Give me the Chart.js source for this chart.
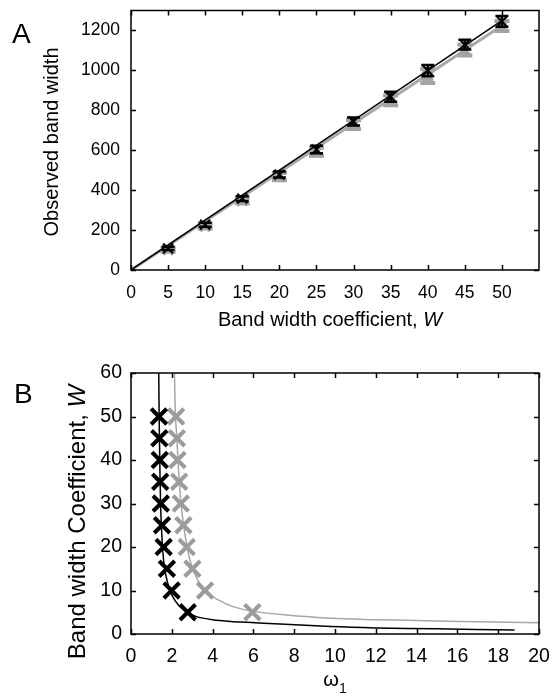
<!DOCTYPE html>
<html lang="en">
<head>
    <meta charset="UTF-8">
    <title>Band width</title>
    <script src="https://cdn.jsdelivr.net/npm/chart.js"></script>
    <style>
        body { margin: 0; background: #fff; }
        .wrap { position: relative; width: 557px; height: 696px; }
        canvas { position: absolute; left: 0; }
        #chartA { top: 0; }
        #chartB { top: 345px; }
    </style>
</head>
<body>
    <div class="wrap">
        <canvas id="chartA" width="557" height="345"></canvas>
        <canvas id="chartB" width="557" height="351"></canvas>
    </div>

    <script>
        // Panel A data
        const widthCoef = [5, 10, 15, 20, 25, 30, 35, 40, 45, 50];
        const observedBlack = [108, 227, 358, 478, 604, 744, 868, 999, 1129, 1245];
        const errBlack = [8, 10, 12, 15, 19, 20, 25, 28, 25, 27];
        const observedGray = [102, 220, 348, 468, 592, 728, 850, 972, 1102, 1222];
        const errGray = [10, 12, 15, 18, 20, 22, 25, 35, 28, 25];
        const fitBlackX = [0, 50.5];
        const fitBlackY = [0, 1262];
        const fitGrayX = [0, 50.5];
        const fitGrayY = [0, 1236];
        const xTicksA = [0, 5, 10, 15, 20, 25, 30, 35, 40, 45, 50];
        const yTicksA = [0, 200, 400, 600, 800, 1000, 1200];

        // Panel B data
        const coefB = [5, 10, 15, 20, 25, 30, 35, 40, 45, 50];
        const omegaBlack = [2.78, 1.99, 1.76, 1.60, 1.52, 1.46, 1.43, 1.41, 1.39, 1.37];
        const omegaGray = [5.95, 3.63, 3.01, 2.73, 2.57, 2.44, 2.36, 2.28, 2.25, 2.21];
        const curveBlackX = [1.36, 1.38, 1.41, 1.45, 1.52, 1.62, 1.78, 2.0, 2.35, 2.78, 3.2, 4.0, 4.9, 5.7, 7.3, 9.8, 12, 15, 18.8];
        const curveBlackY = [60, 50, 40, 30, 22, 16, 12, 9, 6.5, 5, 4.0, 3.3, 2.9, 2.7, 2.3, 1.7, 1.4, 1.2, 0.9];
        const curveGrayX = [2.13, 2.18, 2.25, 2.3, 2.37, 2.45, 2.58, 2.75, 3.02, 3.6, 4.3, 5.0, 6.0, 7.5, 9.8, 12, 14, 17, 20];
        const curveGrayY = [60, 50, 45, 40, 35, 30, 25, 20, 15, 10, 7.8, 6.3, 5.2, 4.4, 3.6, 3.3, 3.1, 2.8, 2.6];
        const xTicksB = [0, 2, 4, 6, 8, 10, 12, 14, 16, 18, 20];
        const yTicksB = [0, 10, 20, 30, 40, 50, 60];

        const FONT = "'Liberation Sans', Arial, sans-serif";
        Chart.defaults.font.family = FONT;
        Chart.defaults.color = '#000';

        const pts = (xs, ys) => xs.map((x, i) => ({ x: x, y: ys[i] }));

        // error bars, drawn right after their own dataset
        const errorBars = {
            id: 'errorBars',
            afterDatasetDraw(chart, args) {
                const ds = chart.data.datasets[args.index];
                if (!ds.err) return;
                const ctx = chart.ctx;
                const xs = chart.scales.x, ys = chart.scales.y;
                ctx.save();
                ctx.strokeStyle = ds.errColor;
                ctx.lineWidth = ds.errWidth;
                ds.data.forEach((p, i) => {
                    const px = xs.getPixelForValue(p.x);
                    const y1 = ys.getPixelForValue(p.y + ds.err[i]);
                    const y2 = ys.getPixelForValue(p.y - ds.err[i]);
                    const c = ds.capHalf;
                    ctx.beginPath();
                    ctx.moveTo(px, y1); ctx.lineTo(px, y2);
                    ctx.moveTo(px - c, y1); ctx.lineTo(px + c, y1);
                    ctx.moveTo(px - c, y2); ctx.lineTo(px + c, y2);
                    ctx.stroke();
                });
                ctx.restore();
            }
        };

        function drawParts(ctx, parts, size) {
            let total = 0;
            parts.forEach(p => {
                ctx.font = (p.italic ? 'italic ' : '') + (p.size || size) + 'px ' + FONT;
                total += ctx.measureText(p.text).width;
            });
            let x = -total / 2;
            parts.forEach(p => {
                ctx.font = (p.italic ? 'italic ' : '') + (p.size || size) + 'px ' + FONT;
                ctx.fillText(p.text, x, p.dy || 0);
                x += ctx.measureText(p.text).width;
            });
        }

        // box, inward ticks, axis titles and panel letter
        const frame = {
            id: 'frame',
            afterDatasetsDraw(chart, args, o) {
                const ctx = chart.ctx;
                const a = chart.chartArea;
                const xs = chart.scales.x, ys = chart.scales.y;
                ctx.save();
                ctx.strokeStyle = '#000';
                ctx.lineWidth = 1.5;
                ctx.beginPath();
                o.xTicks.forEach(v => {
                    const px = Math.round(xs.getPixelForValue(v)) + 0.5;
                    ctx.moveTo(px, a.bottom); ctx.lineTo(px, a.bottom - 5);
                    ctx.moveTo(px, a.top); ctx.lineTo(px, a.top + 5);
                });
                o.yTicks.forEach(v => {
                    const py = Math.round(ys.getPixelForValue(v)) + 0.5;
                    ctx.moveTo(a.left, py); ctx.lineTo(a.left + 5, py);
                    ctx.moveTo(a.right, py); ctx.lineTo(a.right - 5, py);
                });
                ctx.stroke();
                ctx.strokeRect(a.left, a.top, a.right - a.left, a.bottom - a.top);
                ctx.restore();
            },
            afterDraw(chart, args, o) {
                const ctx = chart.ctx;
                ctx.save();
                ctx.fillStyle = '#000';
                ctx.textBaseline = 'alphabetic';
                ctx.textAlign = 'left';

                ctx.save();
                ctx.translate(o.xTitlePos[0], o.xTitlePos[1]);
                drawParts(ctx, o.xTitle, o.titleSize);
                ctx.restore();

                ctx.save();
                ctx.translate(o.yTitlePos[0], o.yTitlePos[1]);
                ctx.rotate(-Math.PI / 2);
                drawParts(ctx, o.yTitle, o.yTitleSize || o.titleSize);
                ctx.restore();

                ctx.font = '28px ' + FONT;
                ctx.fillText(o.letter, o.letterPos[0], o.letterPos[1]);
                ctx.restore();
            }
        };

        function axes(xMin, xMax, yMin, yMax, xTicks, yTicks, tickSize, xPad, yPad, yWidth, xHeight) {
            return {
                x: {
                    type: 'linear', min: xMin, max: xMax,
                    grid: { display: false, drawTicks: false }, border: { display: false },
                    ticks: { font: { size: tickSize }, padding: xPad, maxRotation: 0, autoSkip: false, callback: v => String(v) },
                    afterBuildTicks: s => { s.ticks = xTicks.map(v => ({ value: v })); },
                    afterFit: s => { s.height = xHeight; s.paddingLeft = 0; s.paddingRight = 0; }
                },
                y: {
                    type: 'linear', min: yMin, max: yMax,
                    grid: { display: false, drawTicks: false }, border: { display: false },
                    ticks: { font: { size: tickSize }, padding: yPad, autoSkip: false, callback: v => String(v) },
                    afterBuildTicks: s => { s.ticks = yTicks.map(v => ({ value: v })); },
                    afterFit: s => { s.width = yWidth; s.paddingTop = 0; s.paddingBottom = 0; }
                }
            };
        }

        new Chart(document.getElementById('chartA'), {
            type: 'scatter',
            data: {
                datasets: [
                    {
                        type: 'line', data: pts(fitGrayX, fitGrayY), borderColor: '#a9a9a9',
                        borderWidth: 3, pointRadius: 0, order: 4
                    },
                    {
                        data: pts(widthCoef, observedGray), pointStyle: 'crossRot', pointRadius: 7,
                        borderColor: '#a3a3a3', borderWidth: 3.5, order: 3,
                        err: errGray, errColor: '#a3a3a3', errWidth: 4, capHalf: 7.5
                    },
                    {
                        type: 'line', data: pts(fitBlackX, fitBlackY), borderColor: '#000',
                        borderWidth: 1.5, pointRadius: 0, order: 2
                    },
                    {
                        data: pts(widthCoef, observedBlack), pointStyle: 'crossRot', pointRadius: 7,
                        borderColor: '#000', borderWidth: 2, order: 1,
                        err: errBlack, errColor: '#000', errWidth: 2.5, capHalf: 6.5
                    }
                ]
            },
            options: {
                responsive: false, animation: false, devicePixelRatio: 1,
                layout: { padding: { left: 0, right: 18, top: 9, bottom: 0 } },
                plugins: {
                    legend: { display: false }, tooltip: { enabled: false },
                    frame: {
                        xTicks: xTicksA, yTicks: yTicksA, titleSize: 20,
                        xTitle: [{ text: 'Band width coefficient, ' }, { text: 'W', italic: true }],
                        xTitlePos: [330, 326],
                        yTitle: [{ text: 'Observed band width' }],
                        yTitlePos: [58, 142],
                        letter: 'A', letterPos: [12, 43]
                    }
                },
                scales: axes(0, 55, 0, 1300, xTicksA, yTicksA, 17.5, 13, 11, 131, 75)
            },
            plugins: [errorBars, frame]
        });

        new Chart(document.getElementById('chartB'), {
            type: 'scatter',
            data: {
                datasets: [
                    {
                        type: 'line', data: pts(curveGrayX, curveGrayY), borderColor: '#a6a6a6',
                        borderWidth: 1.5, pointRadius: 0, tension: 0.3, order: 4
                    },
                    {
                        type: 'line', data: pts(curveBlackX, curveBlackY), borderColor: '#000',
                        borderWidth: 1.5, pointRadius: 0, tension: 0.3, order: 3
                    },
                    {
                        data: pts(omegaGray, coefB), pointStyle: 'crossRot', pointRadius: 11,
                        borderColor: '#9c9c9c', borderWidth: 4, order: 2
                    },
                    {
                        data: pts(omegaBlack, coefB), pointStyle: 'crossRot', pointRadius: 11,
                        borderColor: '#000', borderWidth: 4, order: 1
                    }
                ]
            },
            options: {
                responsive: false, animation: false, devicePixelRatio: 1,
                layout: { padding: { left: 0, right: 18, top: 28, bottom: 0 } },
                plugins: {
                    legend: { display: false }, tooltip: { enabled: false },
                    frame: {
                        xTicks: xTicksB, yTicks: yTicksB, titleSize: 20, yTitleSize: 24,
                        xTitle: [{ text: '\u03c9' }, { text: '1', size: 14, dy: 7 }],
                        xTitlePos: [335, 341],
                        yTitle: [{ text: 'Band width Coefficient, ' }, { text: 'W', italic: true }],
                        yTitlePos: [85, 177],
                        letter: 'B', letterPos: [14, 58]
                    }
                },
                scales: axes(0, 20, 0, 60, xTicksB, yTicksB, 19.5, 11, 9, 131, 62)
            },
            plugins: [errorBars, frame]
        });
    </script>
</body>
</html>
